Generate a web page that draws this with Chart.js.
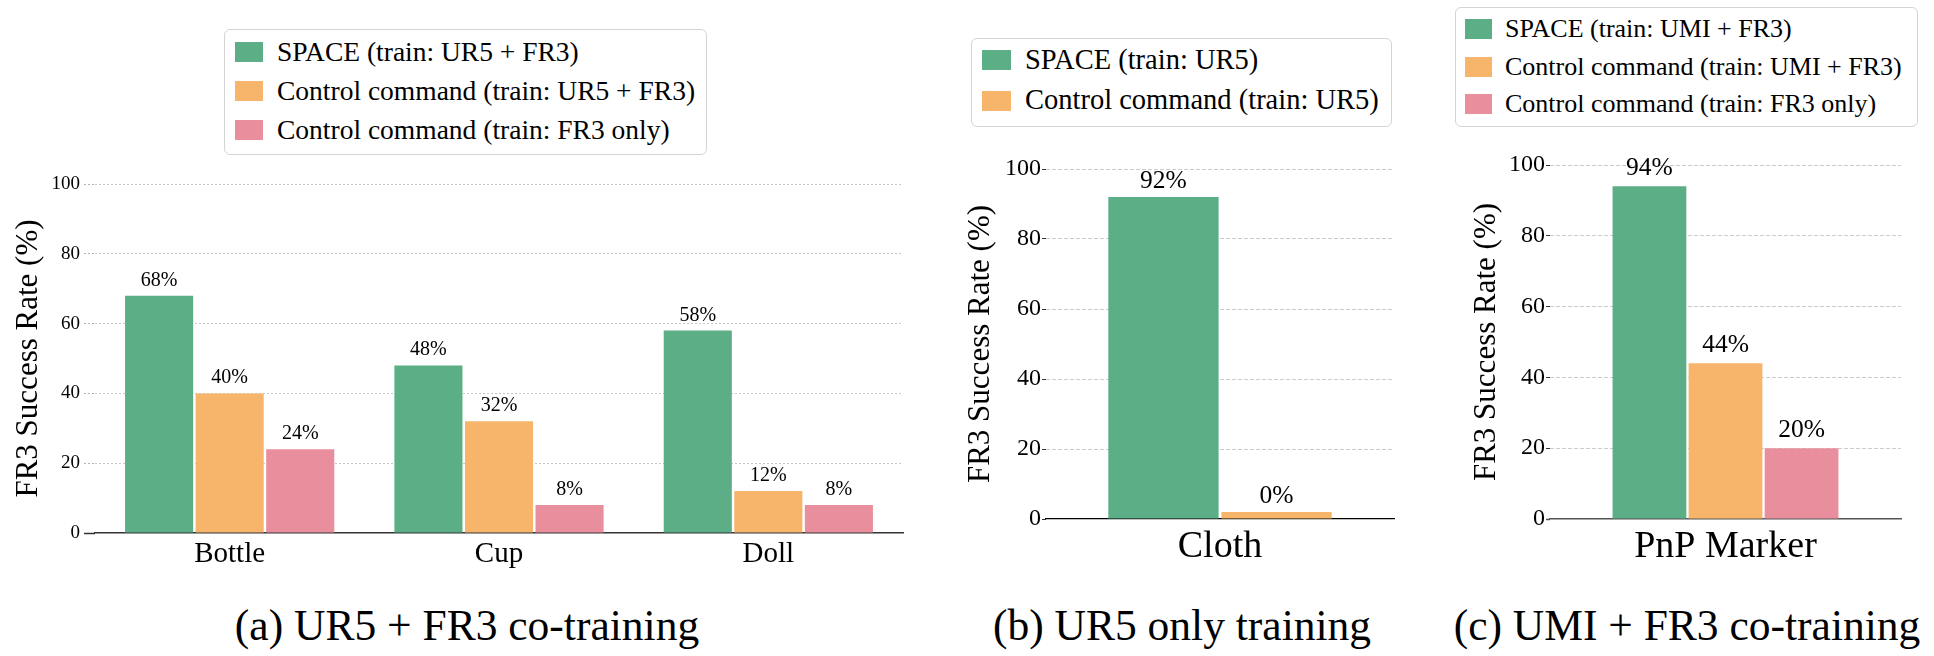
<!DOCTYPE html>
<html>
<head>
<meta charset="utf-8">
<script src="https://cdn.jsdelivr.net/npm/chart.js@4.4.1/dist/chart.umd.min.js"></script>
<style>
  html, body { margin: 0; padding: 0; background: #fff; }
  body { width: 1934px; height: 656px; position: relative; overflow: hidden;
         font-family: 'Liberation Serif', 'Times New Roman', serif; color: #000; }
  .panel { position: absolute; }
  .legend { position: absolute; box-sizing: border-box; border: 1.5px solid #d4d4d4;
            border-radius: 6px; background: #fff; }
  .legend .row { position: absolute; display: flex; align-items: center; white-space: nowrap; line-height: 1; }
  .legend .sw { display: inline-block; flex: none; }
  .caption { position: absolute; white-space: nowrap; font-size: 43.5px; line-height: 1;
             transform: translateX(-50%); }
</style>
</head>
<body>

<div class="panel" style="left:0px; top:150px;"><canvas id="chartA" width="940" height="450"></canvas></div>
<div class="panel" style="left:950px; top:130px;"><canvas id="chartB" width="470" height="460"></canvas></div>
<div class="panel" style="left:1440px; top:130px;"><canvas id="chartC" width="494" height="460"></canvas></div>

<div id="legendA" class="legend" style="left:224px; top:29px; width:483px; height:126px;"></div>
<div id="legendB" class="legend" style="left:971px; top:38px; width:421px; height:89px;"></div>
<div id="legendC" class="legend" style="left:1455px; top:7px; width:463px; height:120px;"></div>

<div class="caption" style="left:467px; top:604px;">(a) UR5 + FR3 co-training</div>
<div class="caption" style="left:1182px; top:604px;">(b) UR5 only training</div>
<div class="caption" style="left:1687px; top:604px;">(c) UMI + FR3 co-training</div>

<script>
const FONT = "'Liberation Serif', 'Times New Roman', serif";

// colours of the three series
const GREEN = '#5bae85';
const ORANGE = '#f6b56a';
const PINK = '#e98e9c';

// y axis ticks shared by all panels
const yTicks = [0, 20, 40, 60, 80, 100];

// (a) UR5 + FR3 co-training
const aCategories = ['Bottle', 'Cup', 'Doll'];
const aSeriesNames = ['SPACE (train: UR5 + FR3)', 'Control command (train: UR5 + FR3)', 'Control command (train: FR3 only)'];
const aSpace = [68, 48, 58];
const aCtrlCo = [40, 32, 12];
const aCtrlFr3 = [24, 8, 8];

// (b) UR5 only training
const bCategories = ['Cloth'];
const bSeriesNames = ['SPACE (train: UR5)', 'Control command (train: UR5)'];
const bSpace = [92];
const bCtrl = [0];

// (c) UMI + FR3 co-training
const cCategories = ['PnP Marker'];
const cSeriesNames = ['SPACE (train: UMI + FR3)', 'Control command (train: UMI + FR3)', 'Control command (train: FR3 only)'];
const cSpace = [94];
const cCtrlCo = [44];
const cCtrlFr3 = [20];


// percentage labels above the bars
const valueLabels = {
  id: 'valueLabels',
  afterDatasetsDraw(chart, args, opts) {
    const ctx = chart.ctx;
    ctx.save();
    ctx.font = opts.size + 'px ' + FONT;
    ctx.fillStyle = '#000';
    ctx.textAlign = 'center';
    ctx.textBaseline = 'alphabetic';
    chart.data.datasets.forEach((ds, i) => {
      chart.getDatasetMeta(i).data.forEach((bar, j) => {
        ctx.fillText(ds.data[j] + '%', bar.x, bar.y - opts.gap);
      });
    });
    ctx.restore();
  }
};

function yScale(o) {
  const isZero = c => c.tick && c.tick.value === 0;
  return {
    min: 0,
    max: 100,
    afterBuildTicks: s => { s.ticks = yTicks.map(v => ({value: v})); },
    ticks: { color: '#000', padding: o.tickPad, font: { family: FONT, size: o.tickSize } },
    grid: {
      color: c => isZero(c) ? 'rgba(0,0,0,0)' : o.gridColor,
      lineWidth: 1,
      tickColor: c => isZero(c) ? o.zeroColor : o.tickColor,
      tickWidth: c => isZero(c) ? o.zeroWidth : 1,
      tickBorderDash: c => isZero(c) ? [] : o.tickDash,
      tickLength: o.tickLength
    },
    border: { display: false, dash: o.dash },
    title: { display: true, text: 'FR3 Success Rate (%)', color: '#000', padding: 0,
             font: { family: FONT, size: 31 } },
    afterFit: s => { s.width = o.width; }
  };
}

function buildLegend(chart, el, o) {
  chart.data.datasets.forEach((ds, i) => {
    const row = document.createElement('div');
    row.className = 'row';
    row.style.left = o.swLeft + 'px';
    row.style.top = (o.first + i * o.step - 20) + 'px';
    row.style.height = '40px';
    row.style.fontSize = o.size + 'px';
    const sw = document.createElement('span');
    sw.className = 'sw';
    sw.style.width = o.swW + 'px';
    sw.style.height = '20px';
    sw.style.marginRight = o.gap + 'px';
    sw.style.background = ds.backgroundColor;
    const txt = document.createElement('span');
    txt.textContent = ds.label;
    row.appendChild(sw);
    row.appendChild(txt);
    el.appendChild(row);
  });
}

const common = {
  responsive: false,
  animation: false,
  events: []
};

// ---------- (a) ----------
const aValues = [aSpace, aCtrlCo, aCtrlFr3];
const aColors = [GREEN, ORANGE, PINK];
const chartA = new Chart(document.getElementById('chartA'), {
  type: 'bar',
  data: {
    labels: aCategories,
    datasets: aSeriesNames.map((name, k) => ({
      label: name,
      data: aValues[k],
      backgroundColor: aColors[k],
      categoryPercentage: 0.786,
      barPercentage: 0.965
    }))
  },
  options: Object.assign({}, common, {
    layout: { padding: { left: 10, top: 34, right: 37, bottom: 0 } },
    plugins: { legend: { display: false }, tooltip: { enabled: false }, valueLabels: { size: 20, gap: 10 } },
    scales: {
      x: {
        grid: { display: false, drawTicks: false },
        border: { color: '#333', width: 1.5 },
        ticks: { padding: 4, color: '#000', maxRotation: 0, font: { family: FONT, size: 29 } },
        afterFit: s => { s.height = 67; }
      },
      y: yScale({ tickSize: 19, tickPad: 4, width: 85, tickLength: 11,
                  gridColor: 'rgba(0,0,0,0.22)', tickColor: 'rgba(0,0,0,0.3)', tickDash: [2, 2],
                  zeroColor: '#333', zeroWidth: 1.5, dash: [2, 2] })
    }
  }),
  plugins: [valueLabels]
});
buildLegend(chartA, document.getElementById('legendA'), { swLeft: 10, swW: 28, gap: 14, size: 27.5, first: 22, step: 39 });

// ---------- (b) ----------
const bValues = [bSpace, bCtrl];
const bColors = [GREEN, ORANGE];
const chartB = new Chart(document.getElementById('chartB'), {
  type: 'bar',
  data: {
    labels: bCategories,
    datasets: bSeriesNames.map((name, k) => ({
      label: name,
      data: bValues[k],
      backgroundColor: bColors[k],
      categoryPercentage: 0.65,
      barPercentage: 0.975,
      minBarLength: 7
    }))
  },
  options: Object.assign({}, common, {
    layout: { padding: { left: 12, top: 39, right: 26, bottom: 0 } },
    plugins: { legend: { display: false }, tooltip: { enabled: false }, valueLabels: { size: 25.5, gap: 9 } },
    scales: {
      x: {
        grid: { display: false, drawTicks: false },
        border: { color: '#000', width: 1.3 },
        ticks: { padding: 5, color: '#000', font: { family: FONT, size: 38 } },
        afterFit: s => { s.height = 71; }
      },
      y: yScale({ tickSize: 24, tickPad: 1, width: 84, tickLength: 4,
                  gridColor: 'rgba(0,0,0,0.2)', tickColor: '#333', tickDash: [],
                  zeroColor: '#333', zeroWidth: 1, dash: [4, 2] })
    }
  }),
  plugins: [valueLabels]
});
buildLegend(chartB, document.getElementById('legendB'), { swLeft: 10, swW: 29, gap: 14, size: 28.5, first: 21, step: 40.5 });

// ---------- (c) ----------
const cValues = [cSpace, cCtrlCo, cCtrlFr3];
const cColors = [GREEN, ORANGE, PINK];
const chartC = new Chart(document.getElementById('chartC'), {
  type: 'bar',
  data: {
    labels: cCategories,
    datasets: cSeriesNames.map((name, k) => ({
      label: name,
      data: cValues[k],
      backgroundColor: cColors[k],
      categoryPercentage: 0.65,
      barPercentage: 0.97
    }))
  },
  options: Object.assign({}, common, {
    layout: { padding: { left: 28, top: 35, right: 33, bottom: 0 } },
    plugins: { legend: { display: false }, tooltip: { enabled: false }, valueLabels: { size: 25.5, gap: 11 } },
    scales: {
      x: {
        grid: { display: false, drawTicks: false },
        border: { color: '#555', width: 1.5 },
        ticks: { padding: 5, color: '#000', font: { family: FONT, size: 38 } },
        afterFit: s => { s.height = 71; }
      },
      y: yScale({ tickSize: 24, tickPad: 1, width: 82, tickLength: 4,
                  gridColor: 'rgba(0,0,0,0.2)', tickColor: '#333', tickDash: [],
                  zeroColor: '#555', zeroWidth: 1.5, dash: [4, 2] })
    }
  }),
  plugins: [valueLabels]
});
buildLegend(chartC, document.getElementById('legendC'), { swLeft: 9, swW: 27, gap: 13, size: 26, first: 21, step: 37.5 });
</script>
</body>
</html>
